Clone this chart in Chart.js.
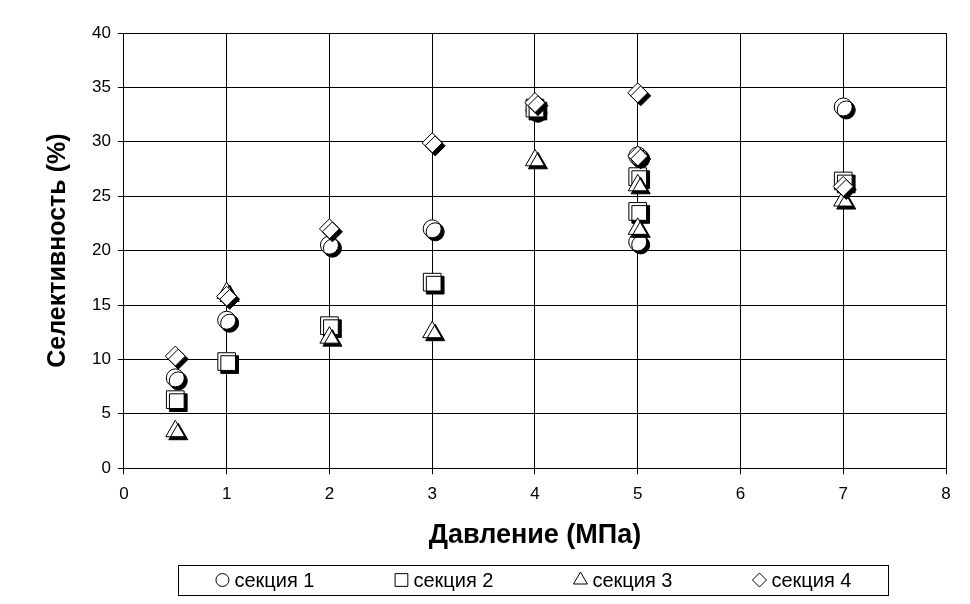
<!DOCTYPE html>
<html>
<head>
<meta charset="utf-8">
<script src="https://cdn.jsdelivr.net/npm/chart.js@4.4.1/dist/chart.umd.min.js"></script>
<style>
    html, body { margin: 0; padding: 0; background: #fff; }
    #wrap { width: 970px; height: 604px; position: relative; }
</style>
</head>
<body>
<div id="wrap"><canvas id="myChart" width="970" height="604"></canvas></div>
<script>
// Pressure values (MPa) - same points for every section
const pressures = [0.5, 1, 2, 3, 4, 5, 5, 7];

// Selectivity (%) per section
const sec1 = [8.3, 13.6, 20.5, 22.0, 32.9, 28.7, 20.8, 33.2];
const sec2 = [6.3, 9.8, 13.1, 17.1, 33.1, 26.8, 23.6, 26.4];
const sec3 = [3.4, 16.1, 12.0, 12.5, 28.3, 26.0, 22.0, 24.6];
const sec4 = [10.3, 15.8, 22.0, 29.9, 33.6, 34.5, 28.7, 25.9];

const seriesNames = ['секция 1', 'секция 2', 'секция 3', 'секция 4'];
const seriesValues = [sec1, sec2, sec3, sec4];
const seriesShapes = ['circle', 'rect', 'triangle', 'rectRot'];
const seriesRadius = [9, 12.5, 11, 10];
const legendRadius = [6.5, 9, 8, 7];

const FONT = "'Liberation Sans', Arial, sans-serif";

function toPoints(values) {
    return values.map((v, i) => ({ x: pressures[i], y: v }));
}

// shadow under markers (Excel style)
const markerShadow = {
    id: 'markerShadow',
    beforeDatasetsDraw(chart) {
        const ctx = chart.ctx;
        ctx.save();
        ctx.shadowColor = '#000';
        ctx.shadowOffsetX = 3;
        ctx.shadowOffsetY = 3;
        ctx.shadowBlur = 0;
    },
    afterDatasetsDraw(chart) {
        chart.ctx.restore();
    }
};

// legend in a frame below the axis title
const boxLegend = {
    id: 'boxLegend',
    afterDraw(chart) {
        const ctx = chart.ctx;
        const area = chart.chartArea;
        const center = (area.left + area.right) / 2;
        const pitch = 179;
        const y = 580;

        ctx.save();
        ctx.strokeStyle = '#000';
        ctx.lineWidth = 1;
        ctx.strokeRect(178.5, 565.5, 710, 30);

        ctx.font = '20px ' + FONT;
        ctx.fillStyle = '#000';
        ctx.textBaseline = 'middle';
        ctx.textAlign = 'left';
        chart.data.datasets.forEach((ds, i) => {
            const mx = center + (i - 1.5) * pitch - 44;
            ctx.fillStyle = '#fff';
            ctx.strokeStyle = '#000';
            Chart.helpers.drawPoint(ctx, {
                pointStyle: ds.pointStyle,
                radius: legendRadius[i],
                rotation: 0,
                borderWidth: 1
            }, mx, y);
            ctx.fillStyle = '#000';
            ctx.fillText(ds.label, mx + 12, y + 1);
        });
        ctx.restore();
    }
};

const datasets = seriesNames.map((name, i) => ({
    label: name,
    data: toPoints(seriesValues[i]),
    pointStyle: seriesShapes[i],
    pointRadius: seriesRadius[i],
    pointHoverRadius: seriesRadius[i],
    backgroundColor: '#fff',
    borderColor: '#000',
    borderWidth: 1,
    order: 3 - i
}));

const ctx = document.getElementById('myChart').getContext('2d');
new Chart(ctx, {
    type: 'scatter',
    data: { datasets: datasets },
    options: {
        responsive: false,
        animation: false,
        layout: {
            padding: { left: 43, right: 24, top: 33, bottom: 52 }
        },
        scales: {
            x: {
                type: 'linear',
                min: 0,
                max: 8,
                ticks: { stepSize: 1, color: '#000', font: { family: FONT, size: 17 }, padding: 10 },
                grid: { color: '#000', lineWidth: 1, tickLength: 6, tickColor: '#000' },
                border: { color: '#000' },
                title: {
                    display: true,
                    text: 'Давление (МПа)',
                    color: '#000',
                    font: { family: FONT, size: 27, weight: 'bold' },
                    padding: { top: 5, bottom: 0 }
                }
            },
            y: {
                min: 0,
                max: 40,
                ticks: { stepSize: 5, color: '#000', font: { family: FONT, size: 17 }, padding: 7 },
                grid: { color: '#000', lineWidth: 1, tickLength: 6, tickColor: '#000' },
                border: { color: '#000' },
                title: {
                    display: true,
                    text: 'Селективность (%)',
                    color: '#000',
                    font: { family: FONT, size: 25, weight: 'bold' },
                    padding: { top: 0, bottom: 12 }
                }
            }
        },
        plugins: {
            tooltip: { enabled: false },
            legend: { display: false }
        }
    },
    plugins: [markerShadow, boxLegend]
});
</script>
</body>
</html>
